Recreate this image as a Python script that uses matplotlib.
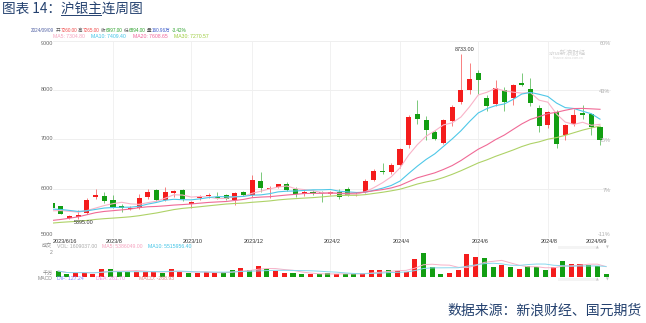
import numpy as np
import pandas as pd
import matplotlib
matplotlib.use("Agg")
import matplotlib.pyplot as plt
from matplotlib.patches import Rectangle
from matplotlib.lines import Line2D

plt.rcParams['font.family'] = ['Liberation Sans', 'Noto Sans CJK SC', 'DejaVu Sans']

# ---- weekly OHLC, 沪银主连 (2023/6/16 - 2024/9/9) ----
opens = [5705, 5644, 5408, 5428, 5503, 5838, 5859, 5772, 5657, 5600,
         5604, 5838, 5974, 5772, 5907, 5974, 5697, 5812, 5852, 5838,
         5879, 5772, 5939, 5873, 6160, 6000, 6035, 6095, 5988, 5905,
         5935, 5925, 5905, 5945, 5994, 5887, 5939, 6176, 6360, 6343,
         6479, 6883, 7509, 7402, 7151, 6929, 7373, 7757, 7994, 8351,
         7846, 7711, 7994, 7846, 8141, 8028, 7636, 7301, 7555, 7085,
         7321, 7535, 7509, 7260]
highs = [5717, 5657, 5469, 5570, 5818, 5988, 5927, 5873, 5691, 5650,
         5899, 5994, 5990, 6040, 5980, 5990, 5745, 5879, 5907, 5927,
         5900, 5939, 5960, 6277, 6350, 6054, 6100, 6129, 6040, 5990,
         5980, 5950, 5950, 5990, 6030, 5940, 6196, 6400, 6525, 6520,
         6816, 7503, 7792, 7468, 7200, 7422, 7691, 8733, 8545, 8411,
         7893, 8196, 8060, 8129, 8343, 8250, 7691, 7580, 7590, 7321,
         7624, 7691, 7535, 7265]
lows = [5596, 5483, 5400, 5395, 5483, 5792, 5717, 5604, 5535, 5570,
        5590, 5792, 5760, 5745, 5838, 5760, 5604, 5772, 5806, 5786,
        5770, 5671, 5850, 5838, 5939, 5818, 6020, 5953, 5826, 5850,
        5880, 5737, 5880, 5800, 5860, 5860, 5907, 6150, 6291, 6300,
        6412, 6816, 7321, 6984, 6984, 6917, 7266, 7725, 7927, 7927,
        7576, 7677, 7576, 7691, 8074, 7670, 7151, 7240, 6836, 6984,
        7280, 7422, 7085, 6894]
closes = [5616, 5495, 5442, 5475, 5772, 5873, 5751, 5630, 5616, 5615,
          5818, 5927, 5772, 5927, 5960, 5786, 5725, 5832, 5866, 5812,
          5792, 5907, 5866, 6176, 6020, 6025, 6095, 5974, 5900, 5930,
          5910, 5910, 5930, 5835, 5880, 5895, 6155, 6357, 6335, 6479,
          6796, 7450, 7411, 7186, 7017, 7402, 7656, 7994, 8230, 8210,
          7677, 8048, 7750, 8095, 8110, 7730, 7280, 7550, 6900, 7290,
          7496, 7496, 7245, 6997]
# weekly closes before the first displayed week (feed the moving averages)
earlier_closes = [5020, 5110, 5180, 5240, 5260, 5300, 5290, 5240, 5180, 5170,
                  5090, 4950, 4900, 4930, 5050, 5240, 5320, 5300, 5280, 5260,
                  5560, 5640, 5680, 5650, 5590, 5470, 5520, 5560, 5614]
# weekly volume (手)
volumes = [3060000, 1450000, 2150000, 2150000, 1610000, 4140000, 4300000, 2690000,
           2690000, 2690000, 2690000, 2310000, 2150000, 3920000, 2690000, 1770000,
           2150000, 2310000, 2150000, 2310000, 3390000, 4840000, 3760000, 5750000,
           4300000, 3230000, 2150000, 1770000, 1240000, 1450000, 1240000, 1770000,
           1610000, 1610000, 1240000, 1770000, 3760000, 3600000, 3760000, 3230000,
           2690000, 9520000, 12900000, 5210000, 1240000, 2150000, 3760000, 11990000,
           10750000, 9840000, 5000000, 6290000, 5380000, 4300000, 5760000, 5010000,
           3610000, 5390000, 8459319, 6850000, 6630000, 6300000, 5541208, 1609037]

tick_index = [7, 16, 23, 32, 40, 49, 57]
tick_labels = ["2023/8", "2023/10", "2023/12", "2024/2", "2024/4", "2024/6", "2024/8"]
first_label, last_label = "2023/6/16", "2024/9/9"
price_ticks = [5000, 6000, 7000, 8000, 9000]
pct_labels = ["-11%", "7%", "25%", "43%", "60%"]
last_date = "2024/09/09"
last_volume_text = "160.96万"
macd_dif, macd_dea, macd_hist = 127.24, 261.70, -268.93

RED, GREEN = "#f41c1c", "#129e12"
MA_COLORS = {5: "#f9b3c8", 10: "#4fc8e8", 20: "#f06a96", 30: "#aed267"}

W, H, DPI = 646, 323, 100
fig = plt.figure(figsize=(W / DPI, H / DPI), dpi=DPI)
fig.patch.set_facecolor("white")
renderer = fig.canvas.get_renderer()


def fx(x):
    return x / W


def fy(y):
    return 1 - y / H


def ftext(x, y, s, **kw):
    kw.setdefault("va", "center")
    return fig.text(fx(x), fy(y), s, **kw)


def chain(x, y, parts, size, gaps):
    """Write text pieces one after another on a line, starting at pixel x."""
    for (s, c), g in zip(parts, gaps):
        t = ftext(x, y, s, fontsize=size, color=c, ha="left")
        x = t.get_window_extent(renderer).x1 + g
    return x


n = len(closes)
idx = np.arange(n)
X0, STEP = 52.1, 8.697
xlim = ((53 - X0) / STEP, (611 - X0) / STEP)

# ---- price panel ----
ax = fig.add_axes([fx(53), fy(238.3), (611 - 53) / W, (238.3 - 40.5) / H])
ax.set_xlim(*xlim)
ax.set_ylim(5000, 9000)
ax.axis("off")
for p in price_ticks:
    ax.axhline(p, color="#ececec", lw=0.6, zorder=0)
for t in tick_index:
    ax.axvline(t, color="#efefef", lw=0.6, zorder=0)

for i in range(n):
    o, h, l, c = opens[i], highs[i], lows[i], closes[i]
    col = RED if c >= o else GREEN
    ax.vlines(i, l, h, color=col, lw=0.6, alpha=0.65, zorder=2)
    body = max(abs(c - o), 18)
    ax.add_patch(Rectangle((i - 0.29, min(o, c)), 0.58, body, facecolor=col,
                           edgecolor="none", zorder=2))

all_close = pd.Series(earlier_closes + closes, dtype=float)
ma = {}
for k in (5, 10, 20, 30):
    ma[k] = all_close.rolling(k).mean().to_numpy()[-n:]
    ax.plot(idx, ma[k], color=MA_COLORS[k], lw=0.8, zorder=3)

imax = int(np.argmax(highs))
imin = int(np.argmin(lows))
ax.text(imax + 0.4, highs[imax] + 25, f"{highs[imax]:.2f}", fontsize=3.9,
        color="#333333", ha="center", va="bottom")
ax.text(imin + 0.6, lows[imin] - 25, f"{lows[imin]:.2f}", fontsize=3.9,
        color="#333333", ha="center", va="top")

# left price labels and right percentage labels
ypix = {9000: 43.3, 8000: 89.5, 7000: 139.0, 6000: 188.3, 5000: 234.3}
for p in price_ticks:
    ftext(52.8, ypix[p], f"{p}", fontsize=4.0, color="#666666", ha="right")
for p, s in zip(price_ticks, pct_labels):
    yy = ypix[p] + (1.8 if p not in (9000, 5000) else 0)
    ftext(610.5, yy, s, fontsize=4.0, color="#b0b0b0", ha="right")

# date labels
for t, s in zip(tick_index, tick_labels):
    ftext(X0 + STEP * t + 1.5, 241.2, s, fontsize=4.0, color="#333333", ha="center")
ftext(53, 241.2, first_label, fontsize=4.0, color="#333333", ha="left")
ftext(607.5, 241.2, last_label, fontsize=4.0, color="#333333", ha="right")

# watermark
ftext(568, 52.5, "sina新浪财经", fontsize=4.6, color="#cfcfcf", ha="center",
      style="italic")
ftext(568, 58.3, "finance.sina.com.cn", fontsize=2.4, color="#d6d6d6", ha="center")

# ---- volume panel ----
vax = fig.add_axes([fx(53), fy(276.7), (611 - 53) / W, 27.7 / H])
vax.set_xlim(*xlim)
vax.set_ylim(0, 27.7 / 18.6 * 1e7)
vax.axis("off")
for t in tick_index:
    vax.axvline(t, ymin=0, ymax=1.2, color="#efefef", lw=0.6, zorder=0, clip_on=False)
vcols = [RED if closes[i] >= opens[i] else GREEN for i in range(n)]
vx = idx + 0.7
vax.bar(vx, volumes, width=0.58, color=vcols, zorder=2)
vol = pd.Series(volumes, dtype=float)
vma5 = vol.rolling(5, min_periods=1).mean().to_numpy()
vma10 = vol.rolling(10, min_periods=1).mean().to_numpy()
vax.plot(vx, vma5, color="#f7b2c8", lw=0.7, zorder=3)
vax.plot(vx, vma10, color="#8ad8ee", lw=0.7, zorder=3)

# ---- header lines ----
title_color = "#24416f"
ftext(1.5, 8.6, "图表 14：沪银主连周图", fontsize=9.8, color=title_color,
      family=["Noto Sans CJK SC", "DejaVu Sans"])
fig.add_artist(Line2D([fx(60.5), fx(101)], [fy(15.4), fy(15.4)], color=title_color, lw=0.7))

pct = (closes[-1] - closes[-2]) / closes[-2] * 100
lab, up, dn = "#555555", "#f04848", "#2aa02a"
quote = [
    (last_date, "#5262a4"), ("开", lab), (f"{opens[-1]:.2f}", up),
    ("高", lab), (f"{highs[-1]:.2f}", up),
    ("收", lab), (f"{closes[-1]:.2f}", dn),
    ("低", lab), (f"{lows[-1]:.2f}", dn),
    ("量", lab), (last_volume_text, "#3556c8"),
    (f"{pct:.2f}%", dn),
]
quote_gaps = [1.2, 0.3, 1.2, 0.3, 1.2, 0.3, 1.2, 0.3, 1.2, 0.3, 1.2, 0]
chain(31, 30.2, quote, 3.3, quote_gaps)

ma_line = [(f"MA{k}: {ma[k][-1]:.2f}", c) for k, c in
           ((5, "#f5a3bf"), (10, "#3ec3e6"), (20, "#f0649a"), (30, "#9ccc3c"))]
chain(53, 36.7, ma_line, 3.7, [6.5, 6.5, 6.5, 0])

# volume legend
ftext(52.5, 246.3, "成交", fontsize=3.7, color="#888888", ha="right")
vol_line = [(f"VOL: {volumes[-1]:.2f}", "#aaaaaa"), (f"MA5: {vma5[-1]:.2f}", "#f5a3bf"),
            (f"MA10: {vma10[-1]:.2f}", "#3ec3e6")]
chain(57, 246.3, vol_line, 3.7, [5, 5, 0])
ftext(52.8, 252.3, "2", fontsize=3.7, color="#888888", ha="right")
ftext(53, 273.2, "千万", fontsize=3.7, color="#888888", ha="right")

# MACD legend
ftext(53, 279.0, "MACD", fontsize=3.7, color="#888888", ha="right")
macd_line = [(f"DIF: {macd_dif:.2f}", "#7a86ff"), (f"DEA: {macd_dea:.2f}", "#f18fe2"),
             (f"MACD: {macd_hist:.2f}", "#e08484")]
chain(57, 279.0, macd_line, 3.7, [12, 14, 0])

# panel controls
for yy in (247.3, 279.5):
    fig.add_artist(Rectangle((fx(558), fy(yy + 1.5)), 39 / W, 3 / H, facecolor="#f4f4f4",
                             edgecolor="none"))
    ftext(597.5, yy, "▲", fontsize=2.6, color="#c4c4c4", ha="center",
          family=["DejaVu Sans"])
    ftext(607, yy, "▼", fontsize=2.6, color="#c4c4c4", ha="center",
          family=["DejaVu Sans"])

# source
ftext(642, 311, "数据来源：新浪财经、国元期货", fontsize=10, color=title_color, ha="right",
      family=["Noto Sans CJK SC", "DejaVu Sans"])

fig.savefig("out.png", dpi=DPI, facecolor="white")
